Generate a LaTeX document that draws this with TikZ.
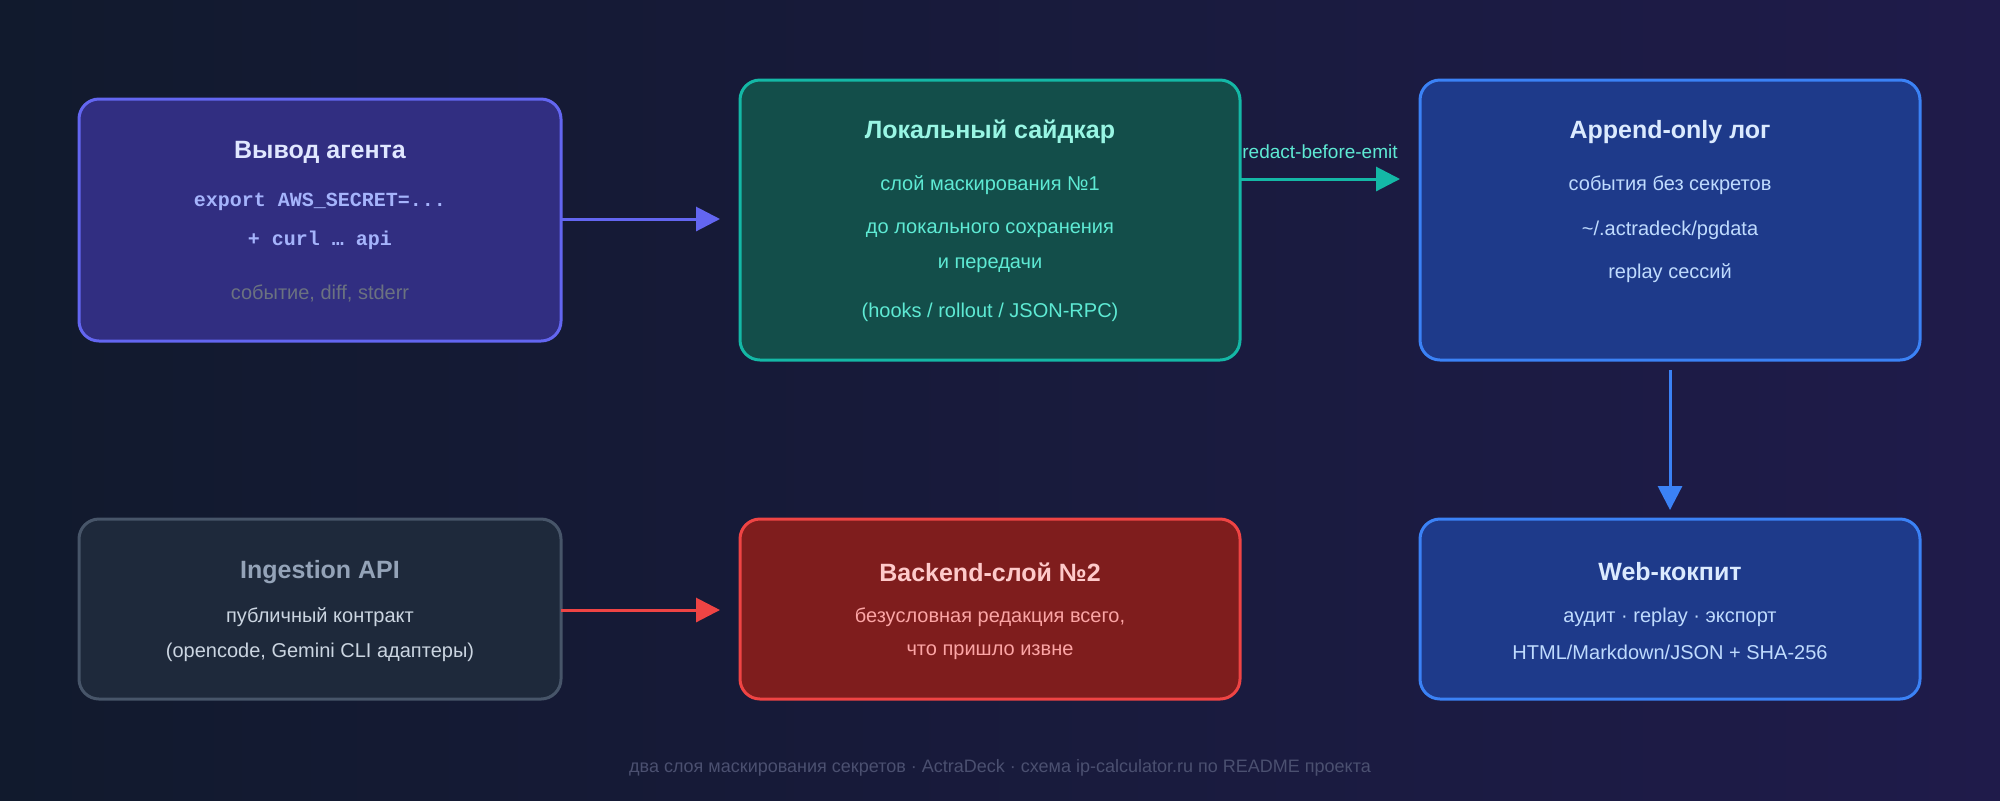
\documentclass[tikz,border=0pt]{standalone}
\usepackage{fontspec}
\setmainfont{Liberation Sans}
\setmonofont{Liberation Mono}
\usetikzlibrary{arrows.meta,calc}
\definecolor{bgA}{HTML}{111A2D}
\definecolor{bgB}{HTML}{1F1B4A}
\definecolor{agFill}{HTML}{312E81}\definecolor{agLine}{HTML}{6366F1}
\definecolor{agTitle}{HTML}{E0E7FF}\definecolor{agMono}{HTML}{A5B4FC}
\definecolor{agGray}{HTML}{6B7280}
\definecolor{scFill}{HTML}{134E4A}\definecolor{scLine}{HTML}{14B8A6}
\definecolor{scTitle}{HTML}{99F6E4}\definecolor{scText}{HTML}{5EEAD4}
\definecolor{lgFill}{HTML}{1E3A8A}\definecolor{lgLine}{HTML}{3B82F6}
\definecolor{lgTitle}{HTML}{DBEAFE}\definecolor{lgText}{HTML}{BFDBFE}
\definecolor{apFill}{HTML}{1E293B}\definecolor{apLine}{HTML}{475569}
\definecolor{apTitle}{HTML}{94A3B8}\definecolor{apText}{HTML}{CBD5E1}
\definecolor{beFill}{HTML}{7F1D1D}\definecolor{beLine}{HTML}{EF4444}
\definecolor{beTitle}{HTML}{FECACA}\definecolor{beText}{HTML}{FCA5A5}
\definecolor{ftText}{HTML}{4B5070}
\tikzset{
  box/.style={draw, line width=1.5pt, rounded corners=10pt, inner sep=0pt},
  ttl/.style={font=\bfseries\fontsize{12.5}{14}\selectfont},
  txt/.style={font=\fontsize{10}{12}\selectfont},
  mono/.style={font=\ttfamily\bfseries\fontsize{10}{12}\selectfont},
  arr/.style={line width=1.5pt, -{Triangle[length=12pt,width=12pt]}}
}
\begin{document}
\begin{tikzpicture}[x=0.5pt,y=-0.5pt]
  % background
  \shade[left color=bgA, right color=bgB] (0,0) rectangle (2000,800);
  \useasboundingbox (0,0) rectangle (2000,800);

  % boxes
  \node[box, draw=agLine, fill=agFill, minimum width=241pt, minimum height=121pt] (agent) at (320,220) {};
  \node[box, draw=scLine, fill=scFill, minimum width=250pt, minimum height=140pt] (sidecar) at (990,220) {};
  \node[box, draw=lgLine, fill=lgFill, minimum width=250pt, minimum height=140pt] (log) at (1670,220) {};
  \node[box, draw=apLine, fill=apFill, minimum width=241pt, minimum height=90pt] (api) at (320,609) {};
  \node[box, draw=beLine, fill=beFill, minimum width=250pt, minimum height=90pt] (backend) at (990,609) {};
  \node[box, draw=lgLine, fill=lgFill, minimum width=250pt, minimum height=90pt] (cockpit) at (1670,609) {};

  % texts
  \node[ttl, agTitle] (agT) at (320,152) {Вывод агента};
  \node[mono, agMono] (agA) at (320,202) {export AWS\_SECRET=...};
  \node[mono, agMono] (agB) at (320,240) {+ curl … api};
  \node[txt, agGray] (agC) at (320,293) {событие, diff, stderr};

  \node[ttl, scTitle] (scT) at (990,132) {Локальный сайдкар};
  \node[txt, scText] (scA) at (990,185) {слой маскирования №1};
  \node[txt, scText] (scB) at (990,230) {до локального сохранения};
  \node[txt, scText] (scC) at (990,265) {и передачи};
  \node[txt, scText] (scD) at (990,312) {(hooks / rollout / JSON-RPC)};

  \node[ttl, lgTitle] (lgT) at (1670,132) {Append-only лог};
  \node[txt, lgText] (lgA) at (1670,185) {события без секретов};
  \node[txt, lgText] (lgB) at (1670,230) {\textasciitilde/.actradeck/pgdata};
  \node[txt, lgText] (lgC) at (1670,273) {replay сессий};

  \node[ttl, apTitle] (apT) at (320,572) {Ingestion API};
  \node[txt, apText] (apA) at (320,617) {публичный контракт};
  \node[txt, apText] (apB) at (320,652) {(opencode, Gemini CLI адаптеры)};

  \node[ttl, beTitle] (beT) at (990,572) {Backend-слой №2};
  \node[txt, beText] (beA) at (990,617) {безусловная редакция всего,};
  \node[txt, beText] (beB) at (990,652) {что пришло извне};

  \node[ttl, lgTitle] (ckT) at (1670,572) {Web-кокпит};
  \node[txt, lgText] (ckA) at (1670,617) {аудит · replay · экспорт};
  \node[txt, lgText] (ckB) at (1670,652) {HTML/Markdown/JSON + SHA-256};

  % connectors
  \coordinate (agOut) at (561,219);
  \coordinate (scIn) at (720,219);
  \draw[arr, agLine] (agOut) -- (scIn);
  \coordinate (scOut) at (1240,179);
  \coordinate (lgIn) at (1400,179);
  \draw[arr, scLine] (scOut) -- (lgIn);
  \node[txt, scText, font=\fontsize{9.5}{11}\selectfont] (emit) at (1320,152) {redact-before-emit};
  \coordinate (lgOut) at (1670,370);
  \coordinate (ckIn) at (1670,510);
  \draw[arr, lgLine] (lgOut) -- (ckIn);
  \coordinate (apOut) at (561,610);
  \coordinate (beIn) at (720,610);
  \draw[arr, beLine] (apOut) -- (beIn);

  % footer
  \node[ftText, font=\fontsize{9}{11}\selectfont] (foot) at (1000,768) {два слоя маскирования секретов · ActraDeck · схема ip-calculator.ru по README проекта};
\end{tikzpicture}
\end{document}
